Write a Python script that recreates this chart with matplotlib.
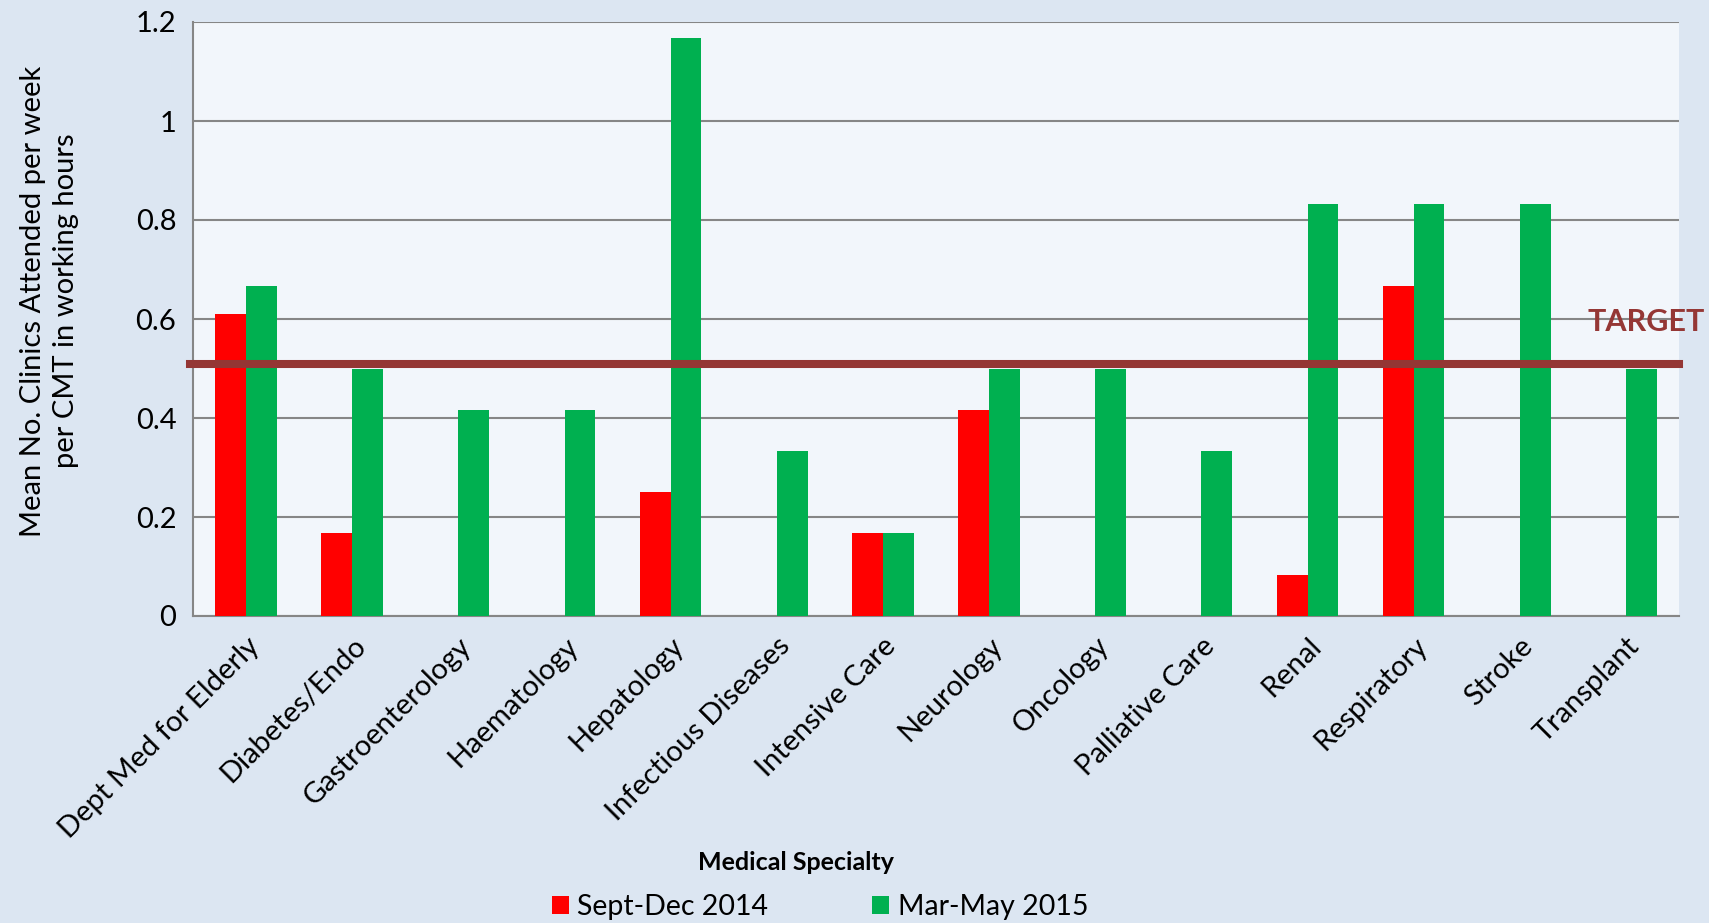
import numpy as np
from matplotlib import pyplot as plt

plt.rcParams["font.family"] = ["Lato", "DejaVu Sans"]

specialties = [
    "Dept Med for Elderly", "Diabetes/Endo", "Gastroenterology", "Haematology",
    "Hepatology", "Infectious Diseases", "Intensive Care", "Neurology",
    "Oncology", "Palliative Care", "Renal", "Respiratory", "Stroke", "Transplant",
]
sept_dec_2014 = [0.611, 0.167, 0, 0, 0.25, 0, 0.167, 0.417, 0, 0, 0.083, 0.667, 0, 0]
mar_may_2015 = [0.667, 0.5, 0.417, 0.417, 1.167, 0.333, 0.167, 0.5, 0.5, 0.333,
                0.833, 0.833, 0.833, 0.5]
target = 0.51
yticks = [0, 0.2, 0.4, 0.6, 0.8, 1, 1.2]
ytick_labels = ["0", "0.2", "0.4", "0.6", "0.8", "1", "1.2"]

fig = plt.figure(figsize=(17.09, 9.23), dpi=100, facecolor="#DCE6F2")
ax = fig.add_axes([193 / 1709, 1 - 616 / 923, (1679 - 193) / 1709, (616 - 22) / 923])
ax.set_facecolor("#F2F6FB")

x = np.arange(len(specialties))
w = 0.29
ax.bar(x - w / 2, sept_dec_2014, w, color="#FF0000", label="Sept-Dec 2014", zorder=3)
ax.bar(x + w / 2, mar_may_2015, w, color="#00B050", label="Mar-May 2015", zorder=3)

ax.axhline(target, xmin=-0.002, xmax=1, color="#943634", lw=5.8, zorder=4, clip_on=False)
# label sits in the right margin, right-aligned to the figure edge
fig.text(1705 / 1709, 1 - 322 / 923, "TARGET", ha="right", va="center",
         fontsize=22, fontweight="bold", color="#953735")

ax.set_xlim(-0.5, len(specialties) - 0.5)
ax.set_ylim(0, 1.2)
ax.set_yticks(yticks)
ax.set_yticklabels(ytick_labels, fontsize=21)
ax.set_xticks(x)
ax.set_xticklabels(specialties, rotation=45, ha="right", rotation_mode="anchor",
                   fontsize=21)
ax.tick_params(axis="both", length=0, pad=12)
ax.grid(axis="y", color="#868686", lw=1.5, zorder=1)

for s in ["top", "right"]:
    ax.spines[s].set_visible(False)
for s in ["left", "bottom"]:
    ax.spines[s].set_color("#868686")
    ax.spines[s].set_linewidth(1.5)

ax.set_ylabel("Mean No. Clinics Attended per week\nper CMT in working hours",
              fontsize=21, linespacing=1.3)
ax.yaxis.set_label_coords(-0.077, 0.53)
ax.set_xlabel("Medical Specialty", fontsize=18, fontweight="bold")
ax.xaxis.set_label_coords(0.406, -0.395)

fig.legend(loc="center", bbox_to_anchor=(820 / 1709, 1 - 907 / 923), ncol=2,
           frameon=False, fontsize=20.5, handlelength=0.6, handleheight=0.6,
           handletextpad=0.3, columnspacing=3.65)

fig.savefig("out.png", dpi=100, facecolor=fig.get_facecolor())
